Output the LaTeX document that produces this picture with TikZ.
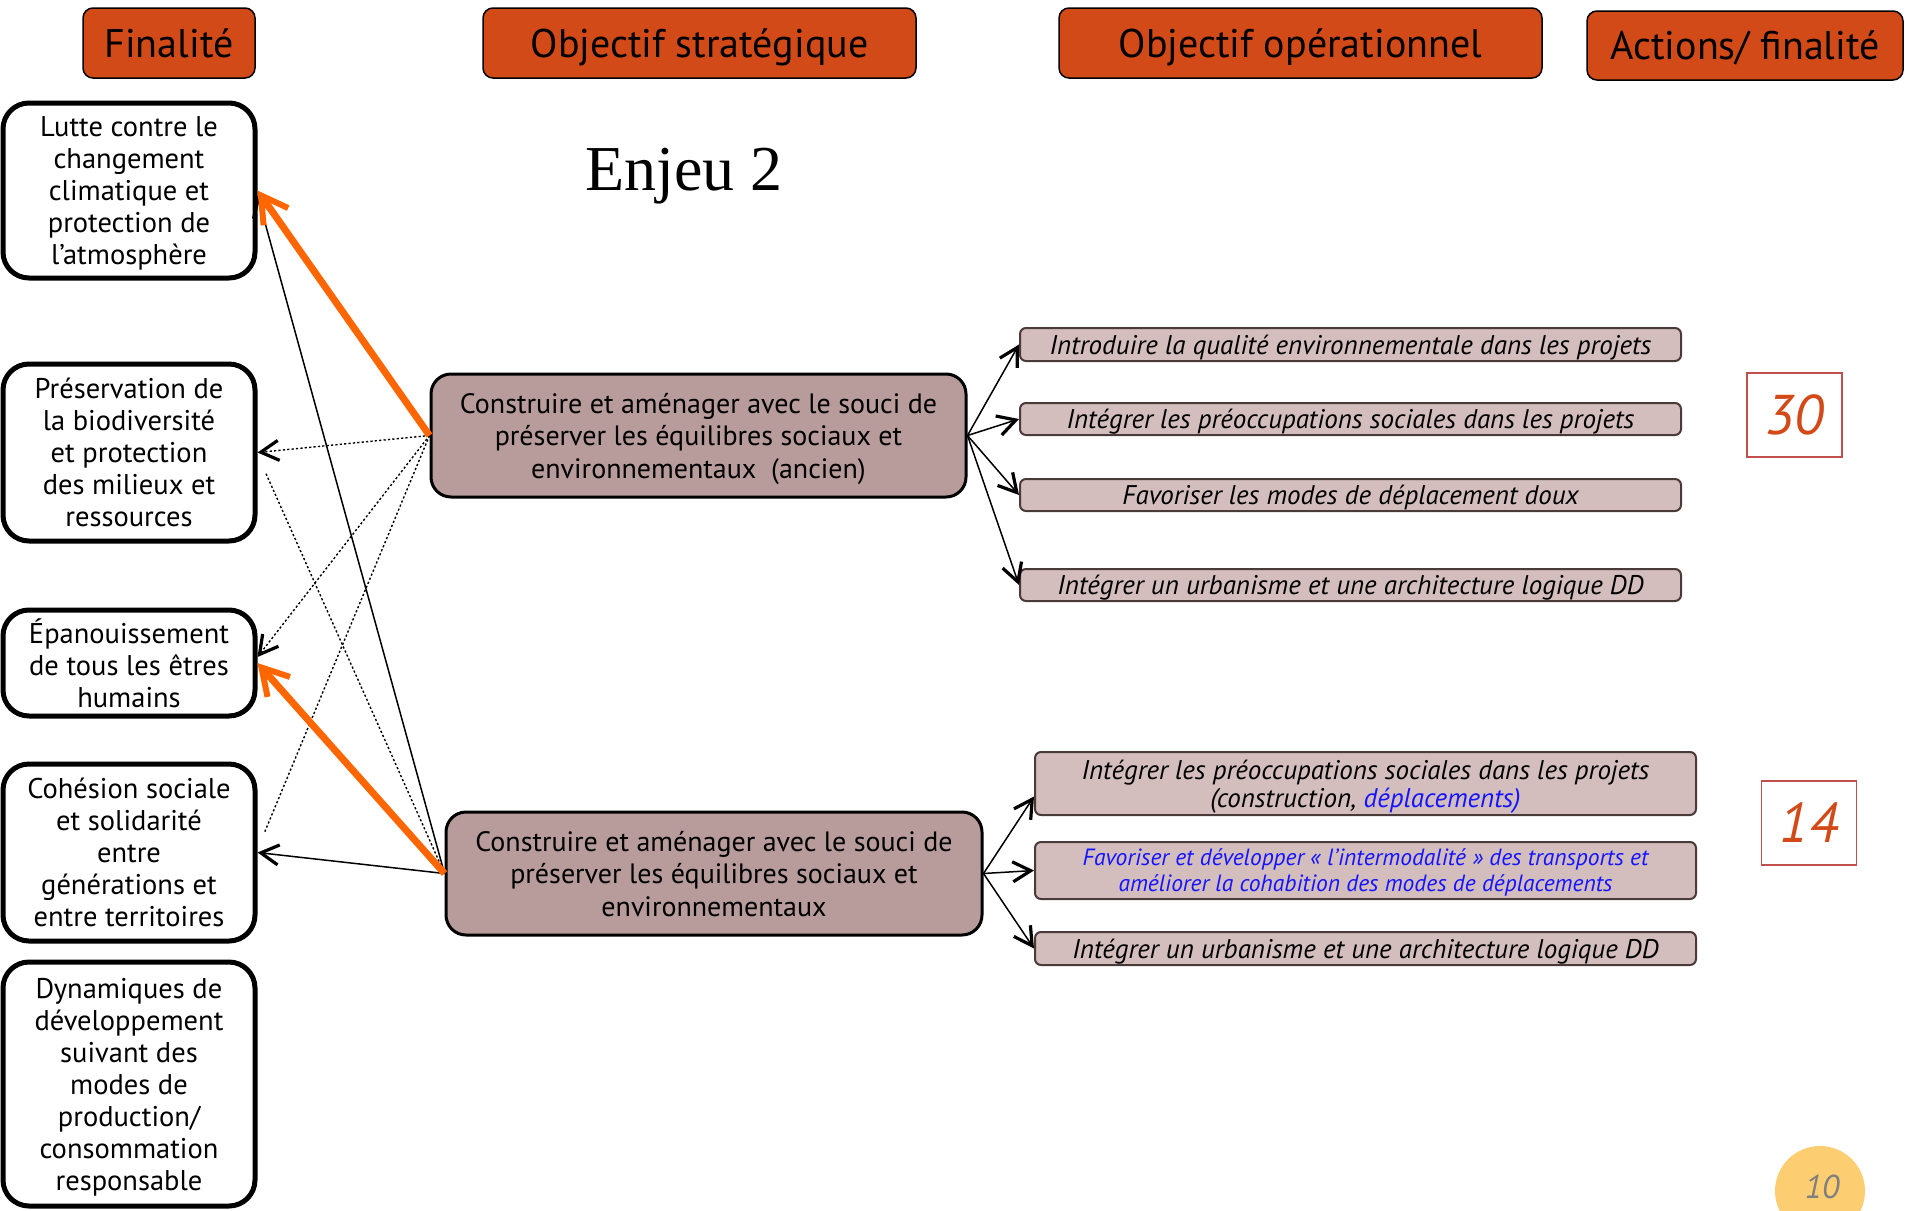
\documentclass[tikz,border=0pt]{standalone}
\usepackage{fontspec}
\setmainfont{PT Sans}
\newfontfamily\titlefont{Liberation Serif}
\usetikzlibrary{arrows.meta}
\definecolor{hdrfill}{HTML}{D24A18}
\definecolor{stratfill}{HTML}{B89B9B}
\definecolor{opfill}{HTML}{D3BDBD}
\definecolor{opdraw}{HTML}{4A3A3A}
\definecolor{linkorange}{HTML}{FF6600}
\definecolor{numred}{HTML}{D24A18}
\definecolor{numframe}{HTML}{C0504D}
\definecolor{pagecircle}{HTML}{FDCD72}
\definecolor{pagegrey}{HTML}{7F7F7F}
\definecolor{bluetext}{HTML}{1414FF}
\begin{document}
\begin{tikzpicture}[x=1pt,y=-1pt,
  hdrbox/.style={draw=black, line width=1.5pt, fill=hdrfill, rounded corners=10pt, inner sep=0pt, text depth=0pt, font=\fontsize{40}{44}\selectfont},
  finbox/.style={draw=black, line width=5pt, fill=white, rounded corners=26pt, minimum width=252pt, align=center, inner sep=0pt, text depth=0pt, font=\fontsize{28.5}{32}\selectfont},
  stratbox/.style={draw=black, line width=3pt, fill=stratfill, rounded corners=20pt, minimum width=535pt, minimum height=123pt, align=center, inner sep=0pt, text depth=0pt, font=\fontsize{28}{32.5}\selectfont},
  opbox/.style={draw=opdraw, line width=2pt, fill=opfill, rounded corners=6pt, minimum width=661pt, align=center, inner sep=0pt, text depth=0pt, font=\fontsize{27}{28}\selectfont\itshape},
  numbox/.style={draw=numframe, line width=1.5pt, minimum width=95pt, minimum height=84pt, inner sep=0pt, text=numred, font=\fontsize{56}{60}\selectfont\itshape},
  blackhead/.style={-{Straight Barb[length=18pt,width=20pt,line width=3.2pt]}},
  thinlink/.style={draw=black, line width=1.5pt, blackhead},
  dotlink/.style={draw=black, line width=1.4pt, dash pattern=on 2.2pt off 2.2pt},
  orangelink/.style={draw=linkorange, line width=7pt, -{Straight Barb[length=26pt,width=30pt,line width=6pt]}}
]
\useasboundingbox (0,0) rectangle (1905,1210);

% headers
\node[hdrbox, minimum width=172pt, minimum height=70pt] (h1) at (169,43) {Finalité};
\node[hdrbox, minimum width=433pt, minimum height=70pt] (h2) at (699.5,43) {Objectif stratégique};
\node[hdrbox, minimum width=483pt, minimum height=70pt] (h3) at (1300.5,43) {Objectif opérationnel};
\node[hdrbox, minimum width=316pt, minimum height=69pt] (h4) at (1745,45.5) {Actions/ finalité};

% title
\node[font=\titlefont\fontsize{64}{70}\selectfont, inner sep=0pt] (title) at (684,176) {Enjeu 2};

% finalités
\node[finbox, minimum height=175pt] (fin1) at (129,190.5) {Lutte contre le\\changement\\climatique et\\protection de\\l’atmosphère};
\node[finbox, minimum height=177pt] (fin2) at (129,452.5) {Préservation de\\la biodiversité\\et protection\\des milieux et\\ressources};
\node[finbox, minimum height=106pt] (fin3) at (129,663) {Épanouissement\\de tous les êtres\\humains};
\node[finbox, minimum height=177pt] (fin4) at (129,852.5) {Cohésion sociale\\et solidarité\\entre\\générations et\\entre territoires};
\node[finbox, minimum height=244pt] (fin5) at (129,1084) {Dynamiques de\\développement\\suivant des\\modes de\\production/\\consommation\\responsable};

% strategic objectives
\node[stratbox] (s1) at (698.5,435.5) {Construire et aménager avec le souci de\\préserver les équilibres sociaux et\\environnementaux~~(ancien)};
\node[stratbox, minimum width=536pt] (s2) at (714,873.5) {Construire et aménager avec le souci de\\préserver les équilibres sociaux et\\environnementaux};

% operational objectives
\node[opbox, minimum height=33pt] (o1) at (1350.5,344.5) {Introduire la qualité environnementale dans les projets};
\node[opbox, minimum height=32pt] (o2) at (1350.5,419) {Intégrer les préoccupations sociales dans les projets};
\node[opbox, minimum height=32pt] (o3) at (1350.5,495) {Favoriser les modes de déplacement doux};
\node[opbox, minimum height=32pt] (o4) at (1350.5,585) {Intégrer un urbanisme et une architecture logique DD};
\node[opbox, minimum height=63pt] (o5) at (1365.5,783.5) {Intégrer les préoccupations sociales dans les projets\\(construction, {\color{bluetext}déplacements)}};
\node[opbox, minimum height=57pt, text=bluetext, font=\fontsize{23.5}{26}\selectfont\itshape] (o6) at (1365.5,870.5) {Favoriser et développer « l’intermodalité » des transports et\\améliorer la cohabition des modes de déplacements};
\node[opbox, minimum height=33pt] (o7) at (1365.5,948.5) {Intégrer un urbanisme et une architecture logique DD};

% numbers
\node[numbox] (n30) at (1794.5,415) {30};
\node[numbox] (n14) at (1809,823) {14};

% page number
\node[circle, fill=pagecircle, minimum size=90pt, inner sep=0pt] (pg) at (1820,1191) {};
\node[text=pagegrey, font=\fontsize{33}{36}\selectfont\itshape, inner sep=0pt] (pgnum) at (1822,1187) {10};

% left connectors
\draw[dotlink] (s2.west) -- ([xshift=8pt,yshift=-20pt]fin2.east);
\draw[dotlink] (s1.west) -- ([xshift=7pt,yshift=20pt]fin4.east);
\draw[dotlink, blackhead] (s1.west) -- (fin2.east);
\draw[dotlink, blackhead] (s1.west) -- ([yshift=6pt]fin3.east);
\draw[thinlink] (s2.west) -- ([yshift=-5pt]fin1.east);
\draw[thinlink] (s2.west) -- (fin4.east);
\draw[orangelink] (s1.west) -- (fin1.east);
\draw[orangelink] (s2.west) -- (fin3.east);

% right connectors
\draw[thinlink] (s1.east) -- (o1.west);
\draw[thinlink] (s1.east) -- (o2.west);
\draw[thinlink] (s1.east) -- (o3.west);
\draw[thinlink] (s1.east) -- (o4.west);
\draw[thinlink] (s2.east) -- ([yshift=-13pt]o5.west);
\draw[thinlink] (s2.east) -- (o6.west);
\draw[thinlink] (s2.east) -- (o7.west);
\end{tikzpicture}
\end{document}
